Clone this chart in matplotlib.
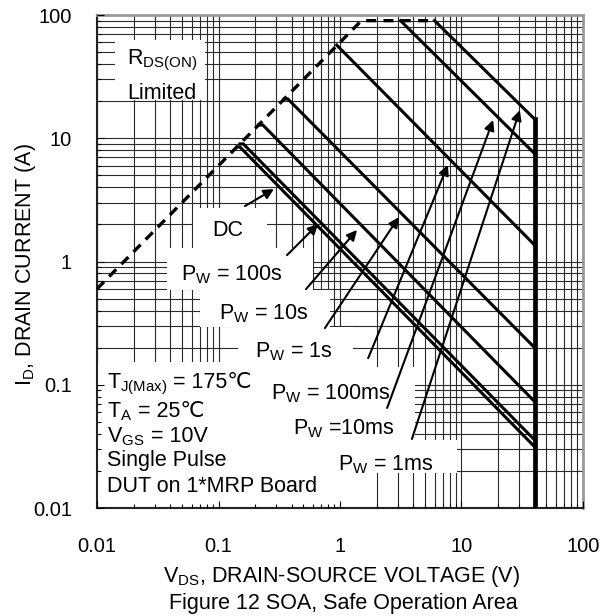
import numpy as np
import matplotlib
matplotlib.use('Agg')
import matplotlib.pyplot as plt
from matplotlib.patches import Rectangle

plt.rcParams['font.family'] = ['Liberation Sans', 'DejaVu Sans']
plt.rcParams['mathtext.fontset'] = 'custom'
plt.rcParams['mathtext.rm'] = 'Liberation Sans'
plt.rcParams['mathtext.it'] = 'Liberation Sans:italic'
plt.rcParams['mathtext.bf'] = 'Liberation Sans:bold'

# RDS(on) limit + package current limit (dashed)
rds_v = [0.01, 1.5, 5.6]
rds_i = [0.6, 90, 90]

# pulse width limits (V, I)
pw_names = ['1ms', '10ms', '100ms', '1s', '10s', '100s', 'DC']
pw_v = [[6.0, 40], [3.15, 40], [0.94, 40], [0.347, 0.373, 40],
        [0.213, 0.232, 40], [0.150, 0.160, 40], [0.142, 0.150, 40]]
pw_i = [[90, 14.3], [90, 7.5], [57, 1.36], [20.8, 20.8, 0.2],
        [12.8, 12.8, 0.073], [9.0, 9.0, 0.0356], [8.5, 8.5, 0.0314]]

# BVdss limit
bv_v = [40, 40]
bv_i = [14.3, 0.01]

tick_vals = [0.01, 0.1, 1, 10, 100]
tick_labels = ['0.01', '0.1', '1', '10', '100']

# labels: text, text pos, arrow tail, arrow head (axes fraction)
lab_text = ['P$_{\\rm W}$ = 1ms', 'P$_{\\rm W}$ =10ms', 'P$_{\\rm W}$ = 100ms',
            'P$_{\\rm W}$ = 1s', 'P$_{\\rm W}$ = 10s', 'P$_{\\rm W}$ = 100s', 'DC']
lab_xy = [(0.5947, 0.0771), (0.5072, 0.150), (0.4805, 0.2211), (0.4053, 0.3063),
          (0.3426, 0.3834), (0.2767, 0.4625), (0.2695, 0.5517)]
tail_xy = [(0.648, 0.140), (0.597, 0.203), (0.558, 0.304), (0.469, 0.365),
           (0.430, 0.444), (0.391, 0.513), (0.3045, 0.6125)]
head_xy = [(0.870, 0.807), (0.815, 0.787), (0.722, 0.696), (0.621, 0.590),
           (0.535, 0.564), (0.455, 0.576), (0.364, 0.647)]

# white areas behind the labels (axes fraction: x0, x1, y0, y1)
masks = [(0.037, 0.222, 0.827, 0.949),   # RDS(on)
         (0.198, 0.350, 0.527, 0.609),   # DC
         (0.144, 0.444, 0.442, 0.527),   # 100s
         (0.212, 0.479, 0.367, 0.442),   # 10s
         (0.290, 0.527, 287e-3, 0.367),  # 1s
         (0.315, 0.654, 0.138, 0.287),   # 100ms / 10ms
         (0.486, 0.741, 0.071, 0.138),   # 1ms
         (0.0, 0.490, 0.0, 0.296),       # conditions
         (0.490, 0.560, 0.0, 0.071)]

# test conditions: subscripted part, plain part
cond_math = ['T$_{\\rm J(Max)}$', 'T$_{\\rm A}$', 'V$_{\\rm GS}$', '', '']
cond_plain = [' = 175\u2103', ' = 25\u2103', ' = 10V', 'Single Pulse', 'DUT on 1*MRP Board']
cond_y = [0.2434, 0.1846, 0.1339, 0.0852, 0.0325]

fs = 15.5

fig = plt.figure(figsize=(6.14, 6.16), dpi=100)
ax = fig.add_axes([0.158, 0.1753, 0.7915, 0.8003])
ax.set_xscale('log')
ax.set_yscale('log')
ax.set_xlim(0.01, 100)
ax.set_ylim(0.01, 100)
ax.set_axisbelow(False)

# grid drawn by hand so the label boxes can hide it
decades = 10.0 ** np.arange(-2, 2)
grid_vals = np.outer(decades, np.arange(1, 10)).ravel()
for g in grid_vals:
    ax.axvline(g, color='#2a2a2a', lw=0.8, zorder=1)
    ax.axhline(g, color='#2a2a2a', lw=0.8, zorder=1)

for x0, x1, y0, y1 in masks:
    ax.add_patch(Rectangle((x0, y0), x1 - x0, y1 - y0, transform=ax.transAxes,
                           facecolor='white', edgecolor='none', zorder=2))

ax.text(0.0617, 0.900, 'R$_{\\rm DS(ON)}$', transform=ax.transAxes, fontsize=fs,
        ha='left', va='baseline', zorder=3)
ax.text(0.0617, 0.8296, 'Limited', transform=ax.transAxes, fontsize=fs,
        ha='left', va='baseline', zorder=3)

fig.canvas.draw()
renderer = fig.canvas.get_renderer()
for tm, tp, y in zip(cond_math, cond_plain, cond_y):
    x0 = 0.0206
    if tm:
        t1 = ax.text(x0, y, tm, transform=ax.transAxes, fontsize=fs,
                     ha='left', va='baseline', zorder=3)
        bb = t1.get_window_extent(renderer).transformed(ax.transAxes.inverted())
        x0 = bb.x1
    ax.text(x0, y, tp, transform=ax.transAxes, fontsize=fs,
            ha='left', va='baseline', zorder=3)

for t, (x, y), tl, hd in zip(lab_text, lab_xy, tail_xy, head_xy):
    ax.text(x, y, t, transform=ax.transAxes, fontsize=fs, ha='center', va='baseline',
            zorder=3)
    ax.annotate('', xy=hd, xytext=tl, xycoords='axes fraction', textcoords='axes fraction',
                arrowprops=dict(arrowstyle='-|>', color='black', lw=1.5,
                                mutation_scale=15, shrinkA=0, shrinkB=0), zorder=4)

# curves
ax.plot(rds_v, rds_i, color='black', lw=2.4, ls=(0, (3, 2.2)), zorder=5)
for v, i in zip(pw_v, pw_i):
    ax.plot(v, i, color='black', lw=2.2, zorder=5, solid_joinstyle='miter')
ax.plot(bv_v, bv_i, color='black', lw=3.4, zorder=5)

ax.xaxis.set_major_locator(matplotlib.ticker.FixedLocator(tick_vals))
ax.yaxis.set_major_locator(matplotlib.ticker.FixedLocator(tick_vals))
ax.xaxis.set_major_formatter(matplotlib.ticker.FixedFormatter(tick_labels))
ax.yaxis.set_major_formatter(matplotlib.ticker.FixedFormatter(tick_labels))
ax.xaxis.set_minor_formatter(matplotlib.ticker.NullFormatter())
ax.yaxis.set_minor_formatter(matplotlib.ticker.NullFormatter())
ax.tick_params(which='major', direction='in', length=5, width=0.8, labelsize=14.5)
ax.tick_params(axis='x', which='major', pad=21)
ax.tick_params(axis='y', which='major', pad=18)
ax.tick_params(which='minor', direction='in', length=3, width=0.8)

for s in ['left', 'bottom']:
    ax.spines[s].set_color('#222222')
    ax.spines[s].set_linewidth(1.5)
for s in ['top', 'right']:
    ax.spines[s].set_color('#999999')
    ax.spines[s].set_linewidth(2)

fig.text(0.556, 0.0552, 'V$_{\\rm DS}$, DRAIN-SOURCE VOLTAGE (V)', fontsize=fs,
         ha='center', va='baseline')
fig.text(0.559, 0.0114, 'Figure 12 SOA, Safe Operation Area', fontsize=fs,
         ha='center', va='baseline')
fig.text(0.0619, 0.570, 'I$_{\\rm D}$, DRAIN CURRENT (A)', fontsize=fs,
         ha='right', va='center', rotation=90)

fig.savefig('out.png', dpi=100)
